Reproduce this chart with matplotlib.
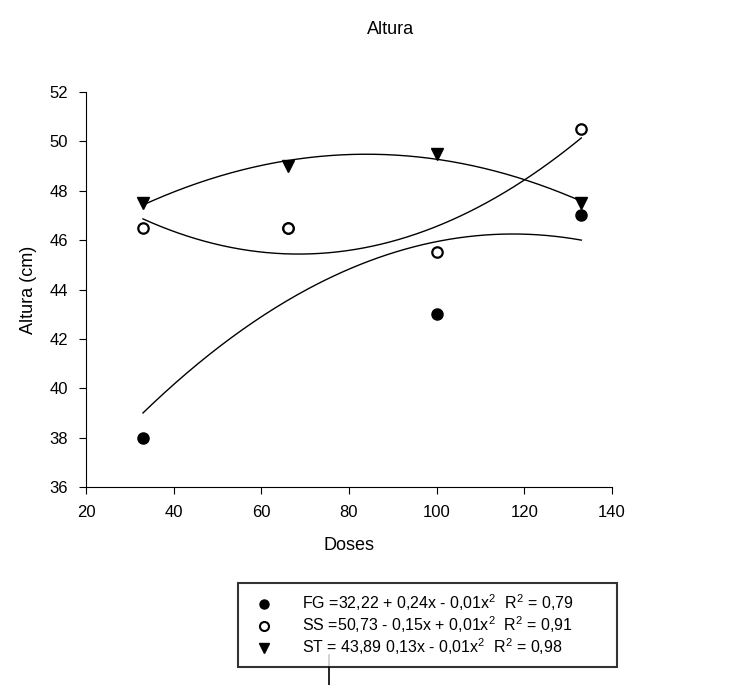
import numpy as np
import matplotlib.pyplot as plt
from matplotlib.lines import Line2D

plt.rcParams['font.family'] = ['Liberation Sans', 'DejaVu Sans']
plt.rcParams['mathtext.fontset'] = 'custom'
plt.rcParams['mathtext.rm'] = 'Liberation Sans'
plt.rcParams['mathtext.it'] = 'Liberation Sans:italic'

doses = [33, 66, 100, 133]
fg = [38, 46.5, 43, 47]     # o ponto em 66 fica escondido atras do SS
ss = [46.5, 46.5, 45.5, 50.5]
st = [47.5, 49, 49.5, 47.5]

rotulos = ["FG =32,22 + 0,24x - 0,01x$^2$  R$^2$ = 0,79",
           "SS =50,73 - 0,15x + 0,01x$^2$  R$^2$ = 0,91",
           "ST = 43,89 0,13x - 0,01x$^2$  R$^2$ = 0,98"]

fig = plt.figure(figsize=(7.44, 6.85), dpi=100)
ax = fig.add_axes([86/744, 1-487/685, 526/744, 395/685])

xs = np.linspace(doses[0], doses[-1], 200)
for serie in (fg, ss, st):
    coef = np.polyfit(doses, serie, 2)
    ax.plot(xs, np.polyval(coef, xs), color='black', lw=1)

ax.plot(doses, fg, 'o', color='black', ms=8, zorder=3)
ax.plot(doses, ss, 'o', mfc='white', mec='black', mew=1.6, ms=7.5, zorder=4)
ax.plot(doses, st, 'v', color='black', ms=9, zorder=5)

ax.set_xlim(20, 140)
ax.set_ylim(36, 52)
ax.set_xticks(range(20, 141, 20))
ax.set_yticks(range(36, 53, 2))
ax.spines['top'].set_visible(False)
ax.spines['right'].set_visible(False)
ax.tick_params(direction='out', length=5, labelsize=12, pad=8)
ax.set_xlabel("Doses", fontsize=13, labelpad=12)
ax.set_ylabel("Altura (cm)", fontsize=13, labelpad=9)
fig.text(391/744, 1-30/685, "Altura", ha='center', va='center', fontsize=13)

handles = [Line2D([], [], ls='none', marker='o', color='black', ms=6.5),
           Line2D([], [], ls='none', marker='o', mfc='white', mec='black', mew=1.5, ms=6.5),
           Line2D([], [], ls='none', marker='v', color='black', ms=7.5)]
leg = fig.legend(handles, rotulos, loc='upper left', mode='expand',
                 bbox_to_anchor=(238/744, 1-667/685, 379/744, 84/685),
                 borderaxespad=0, fontsize=11.5,
                 fancybox=False, frameon=True, edgecolor='black',
                 handletextpad=1.4, labelspacing=0.08, borderpad=0.6)
leg.get_frame().set_linewidth(1.5)

fig.add_artist(Line2D([329/744, 329/744], [1-655/685, 0], color='black', lw=1.2))

fig.savefig("out.png", dpi=100)
